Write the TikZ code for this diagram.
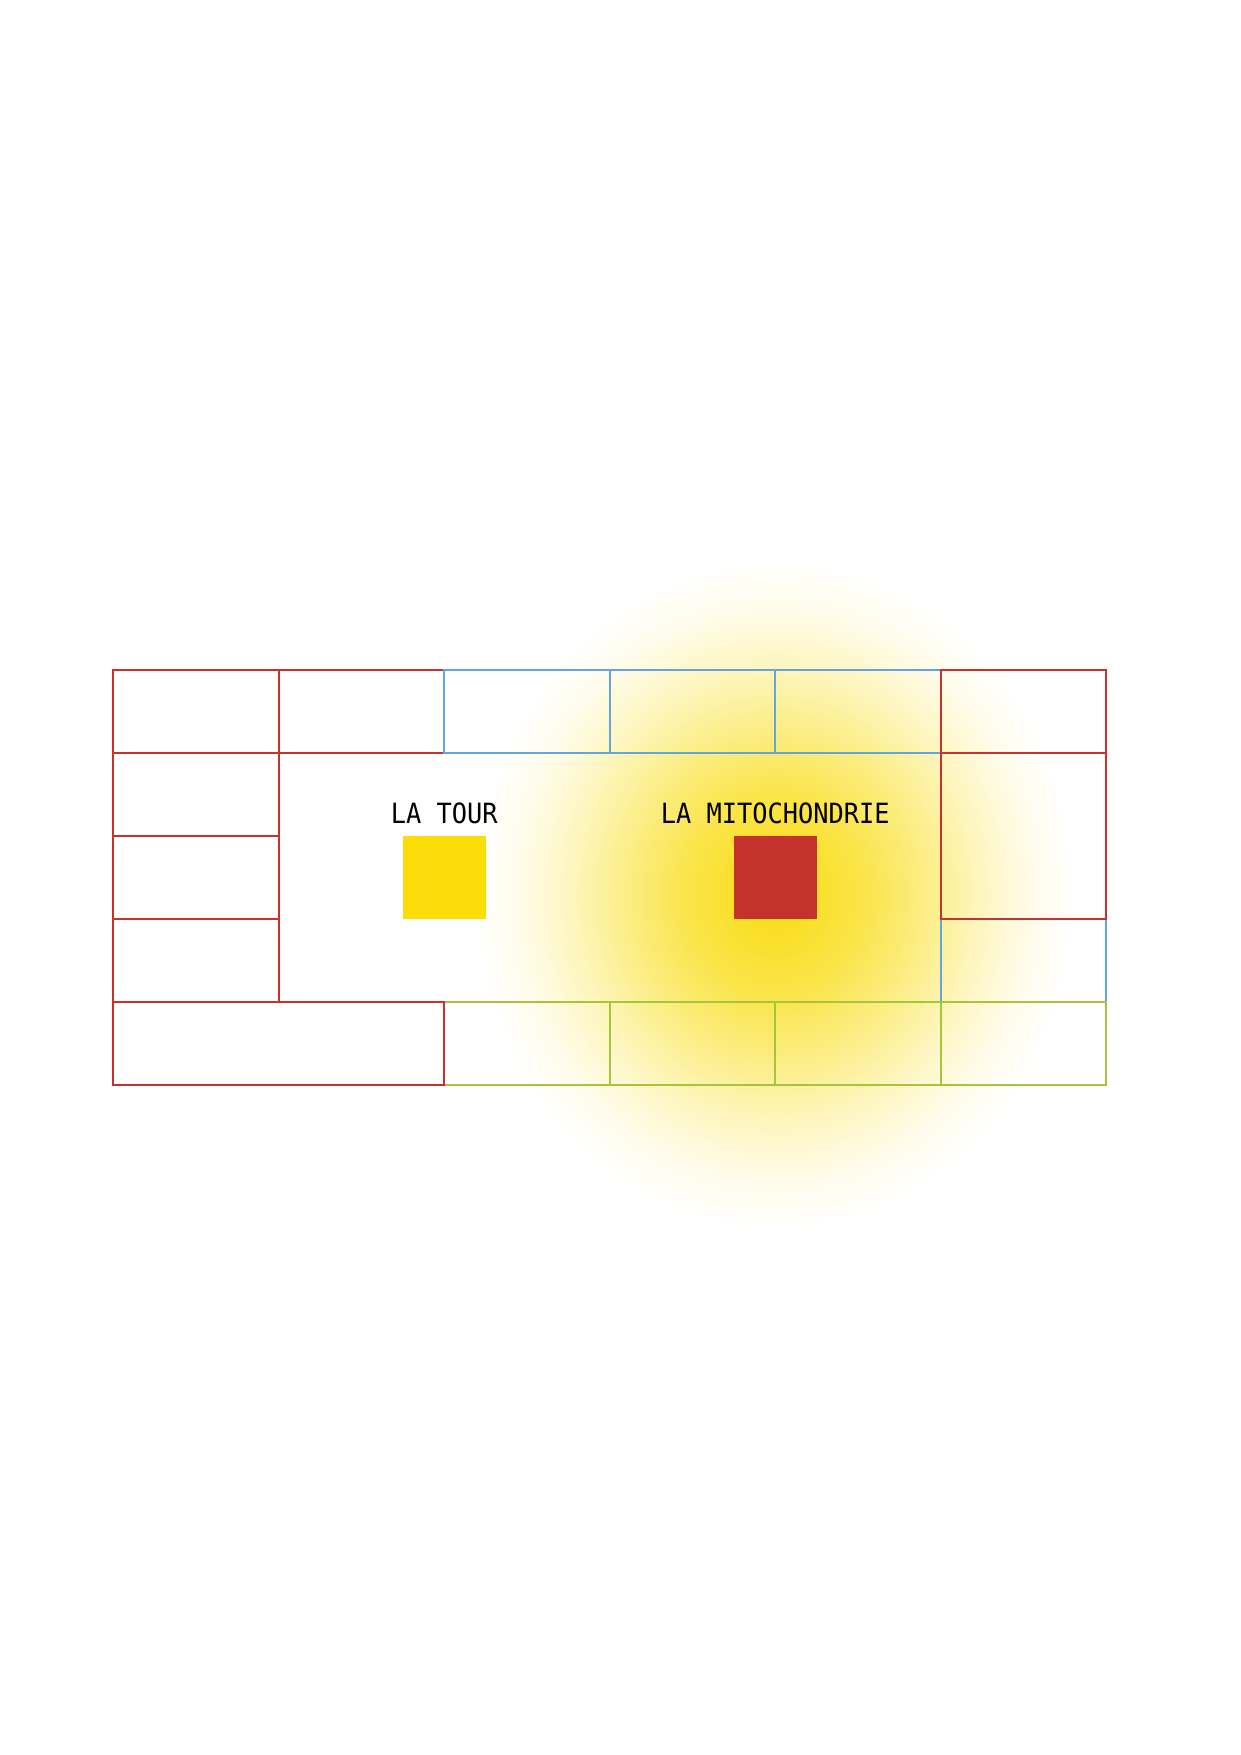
\documentclass[tikz,border=0pt]{standalone}
\usepackage{fontspec}
\newfontfamily\labelfont{DejaVu Sans Mono}
\definecolor{sun}{RGB}{249,223,35}
\definecolor{wallred}{RGB}{200,49,45}
\definecolor{wallblue}{RGB}{100,165,221}
\definecolor{wallgreen}{RGB}{166,197,60}
\definecolor{tourjaune}{RGB}{250,221,9}
\definecolor{mitored}{RGB}{196,50,45}
% glow edge at 8.33bp: the shaded rectangle is 3 times the glow
\pgfdeclareradialshading{glow}{\pgfpoint{0bp}{0bp}}{color(0bp)=(sun); color(0.83bp)=(sun); color(2.5bp)=(sun!82); color(4.17bp)=(sun!55); color(5.83bp)=(sun!27); color(7.08bp)=(sun!10); color(8.33bp)=(white); color(50bp)=(white)}
\begin{document}
\begin{tikzpicture}[line width=1pt]
\useasboundingbox (0,0) rectangle (21,29.7);
\fill[white] (0,0) rectangle (21,29.7);
\fill[shading=glow] (13.115-15.24,14.555-17.0) rectangle (13.115+15.24,14.555+17.0);

\begin{scope}[shift={(1.92,18.358)},x=2.8cm,y=-1.405cm]
\draw[wallred] (0,0) rectangle (1,1) (1,0) rectangle (2,1);
\foreach \i in {2,3,4} \draw[wallblue] (\i,0) rectangle (\i+1,1);
\draw[wallblue] (5,3) rectangle (6,4);
\foreach \i in {2,...,5} \draw[wallgreen] (\i,4) rectangle (\i+1,5);
\foreach \j in {1,2,3} \draw[wallred] (0,\j) rectangle (1,\j+1);
\draw[wallred] (5,0) rectangle (6,1) (5,1) rectangle (6,3) (0,4) rectangle (2,5);

\fill[tourjaune] (1.75,2) rectangle (2.25,3);
\fill[mitored] (3.75,2) rectangle (4.25,3);
\node[anchor=base, font=\labelfont\fontsize{12.2}{14}\selectfont] (tour) at (2,1.848) {\scalebox{1}[1.1]{LA TOUR}};
\node[anchor=base, font=\labelfont\fontsize{12.2}{14}\selectfont] (mito) at (4,1.848) {\scalebox{1}[1.1]{LA MITOCHONDRIE}};
\end{scope}
\end{tikzpicture}
\end{document}
